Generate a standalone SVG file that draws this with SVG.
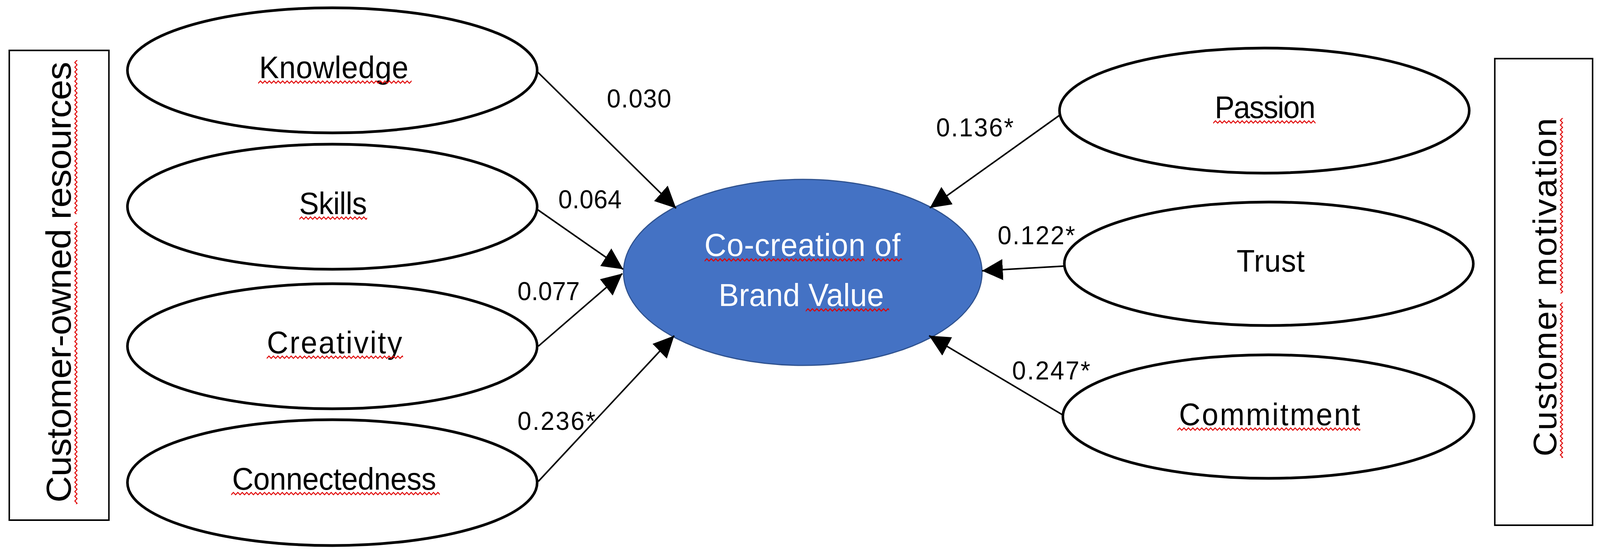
<svg xmlns="http://www.w3.org/2000/svg" width="4319" height="1433" viewBox="0 0 4319 1433">
<style>
.node{fill:#fff;stroke:#000;stroke-width:7}
.box{fill:#fff;stroke:#000;stroke-width:4}
.t{font-family:"Liberation Sans",Arial,sans-serif;font-size:80px;fill:#000;text-anchor:middle}
.side{font-family:"Liberation Sans",Arial,sans-serif;font-size:94px;fill:#000}
.side2{font-family:"Liberation Sans",Arial,sans-serif;font-size:88px;fill:#000}
.lbl{font-family:"Liberation Sans",Arial,sans-serif;font-size:67px;fill:#000}
.ct{font-family:"Liberation Sans",Arial,sans-serif;font-size:82px;fill:#fff;text-anchor:middle}
.edge{stroke:#000;stroke-width:4;fill:none;marker-end:url(#ah)}
</style>
<defs>
<marker id="ah" markerUnits="userSpaceOnUse" markerWidth="60" markerHeight="56" refX="56" refY="27" orient="auto">
<path d="M0,0 L56,27 L0,54 z" fill="#000"/>
</marker>
<pattern id="sq" width="12" height="10" patternUnits="userSpaceOnUse">
<path d="M-3,5.5 L0,8 L6,2 L12,8 L15,5.5" fill="none" stroke="#e00000" stroke-width="2.6"/>
</pattern>
<pattern id="sqv" width="10" height="12" patternUnits="userSpaceOnUse">
<path d="M5.5,-3 L8,0 L2,6 L8,12 L5.5,15" fill="none" stroke="#e00000" stroke-width="2.6"/>
</pattern>
</defs>
<rect width="4319" height="1433" fill="#fff"/>
<g id="diagram" transform="scale(0.94837,1)">

<g id="box-resources">
<rect class="box" x="25" y="129" width="269" height="1202"/>
<text class="side" transform="translate(191,1286) rotate(-90)" textLength="1128">Customer-owned resources</text>
<g transform="translate(200,154)"><rect width="10" height="394" fill="url(#sqv)"/></g>
<g transform="translate(200,568)"><rect width="10" height="722" fill="url(#sqv)"/></g>
</g>

<g id="box-motivation">
<rect class="box" x="4035" y="150" width="264" height="1194"/>
<text class="side2" transform="translate(4201,1168) rotate(-90)" textLength="866">Customer motivation</text>
<g transform="translate(4210,302)"><rect width="10" height="449" fill="url(#sqv)"/></g>
<g transform="translate(4210,774)"><rect width="10" height="398" fill="url(#sqv)"/></g>
</g>

<g id="node-knowledge">
<ellipse class="node" cx="897" cy="180" rx="553" ry="160"/>
<text class="t" x="901" y="200" textLength="403">Knowledge</text>
<g transform="translate(697,205)"><rect width="414" height="10" fill="url(#sq)"/></g>
</g>
<g id="node-skills">
<ellipse class="node" cx="897" cy="529" rx="553" ry="160"/>
<text class="t" x="899" y="548" textLength="183">Skills</text>
<g transform="translate(808,553)"><rect width="183" height="10" fill="url(#sq)"/></g>
</g>
<g id="node-creativity">
<ellipse class="node" cx="897" cy="886" rx="553" ry="160"/>
<text class="t" x="903" y="904" textLength="365">Creativity</text>
<g transform="translate(720,909)"><rect width="368" height="10" fill="url(#sq)"/></g>
</g>
<g id="node-connectedness">
<ellipse class="node" cx="897" cy="1235" rx="553" ry="161"/>
<text class="t" x="902" y="1253" textLength="551">Connectedness</text>
<g transform="translate(624,1258)"><rect width="563" height="10" fill="url(#sq)"/></g>
</g>

<g id="node-passion">
<ellipse class="node" cx="3413" cy="283" rx="553" ry="160"/>
<text class="t" x="3415" y="302" textLength="272">Passion</text>
<g transform="translate(3275,307)"><rect width="276" height="10" fill="url(#sq)"/></g>
</g>
<g id="node-trust">
<ellipse class="node" cx="3425" cy="675" rx="552" ry="158"/>
<text class="t" x="3430" y="695" textLength="184">Trust</text>
</g>
<g id="node-commitment">
<ellipse class="node" cx="3424" cy="1066" rx="555" ry="158"/>
<text class="t" x="3427" y="1088" textLength="489">Commitment</text>
<g transform="translate(3178,1093)"><rect width="494" height="10" fill="url(#sq)"/></g>
</g>

<g id="node-cocreation">
<ellipse cx="2167" cy="697" rx="484" ry="238" fill="#4472C4" stroke="#2F528F" stroke-width="3"/>
<text class="ct" x="2166" y="655" textLength="529">Co-creation of</text>
<text class="ct" x="2163" y="783" textLength="446">Brand Value</text>
<g transform="translate(1902,660)"><rect width="431" height="10" fill="url(#sq)"/></g>
<g transform="translate(2354,660)"><rect width="81" height="10" fill="url(#sq)"/></g>
<g transform="translate(2175,788)"><rect width="225" height="10" fill="url(#sq)"/></g>
</g>

<g id="connectors">
<line class="edge" x1="1452" y1="185" x2="1825" y2="533"/>
<line class="edge" x1="1452" y1="537" x2="1682" y2="689"/>
<line class="edge" x1="1453" y1="886" x2="1680" y2="700"/>
<line class="edge" x1="1453" y1="1232" x2="1820" y2="859"/>
<line class="edge" x1="2860" y1="295" x2="2510" y2="532"/>
<line class="edge" x1="2871" y1="681" x2="2651" y2="693"/>
<line class="edge" x1="2869" y1="1062" x2="2508" y2="859"/>
<text class="lbl" x="1638" y="275" textLength="174">0.030</text>
<text class="lbl" x="1507" y="533" textLength="171">0.064</text>
<text class="lbl" x="1397" y="768" textLength="168">0.077</text>
<text class="lbl" x="1397" y="1100" textLength="210">0.236*</text>
<text class="lbl" x="2527" y="349" textLength="209">0.136*</text>
<text class="lbl" x="2693" y="625" textLength="209">0.122*</text>
<text class="lbl" x="2732" y="971" textLength="211">0.247*</text>
</g>
</g>
</svg>
